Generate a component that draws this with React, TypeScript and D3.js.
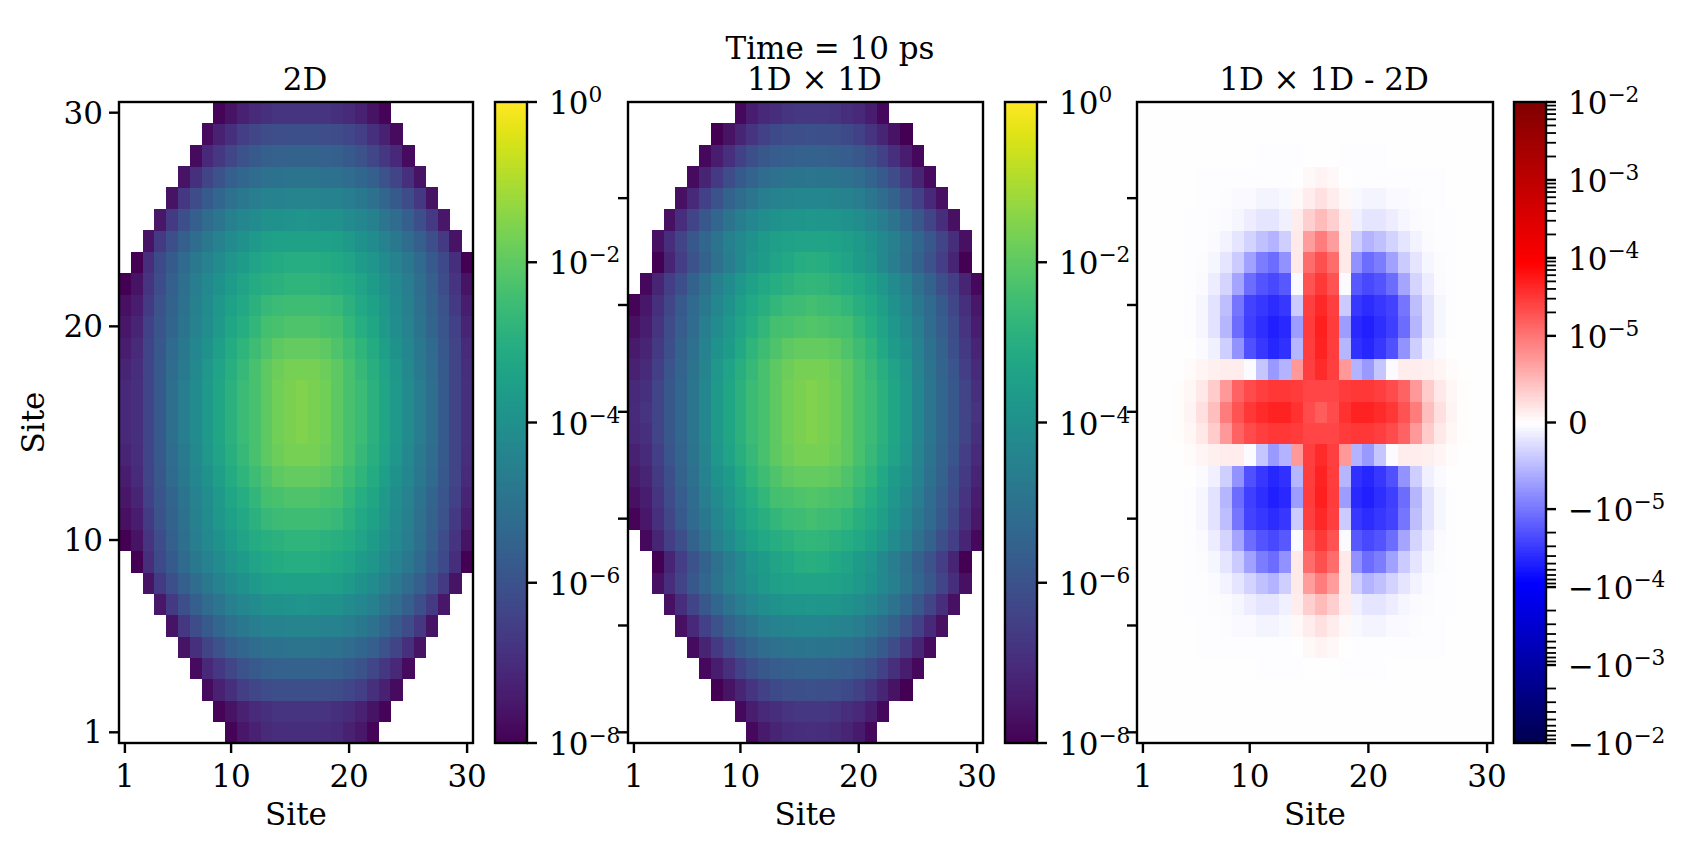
import * as d3 from "d3";

const _ = null;

// log10 of the occupation, read from the colours. Rows are site 1..16, columns site 1..16,
// the picture is mirror symmetric around site 16 in both directions
const occupation2D = [
	[_, _, _, _, _, _, _, _, _, -7.92, -7.52, -7.28, -7.04, -7, -6.96, -6.96],
	[_, _, _, _, _, _, _, _, -7.92, -7.6, -7.28, -7.04, -6.88, -6.8, -6.8, -6.8],
	[_, _, _, _, _, _, _, -7.76, -7.28, -6.88, -6.56, -6.32, -6.16, -6.12, -6.08, -6.08],
	[_, _, _, _, _, _, -7.76, -7.12, -6.72, -6.32, -6, -5.76, -5.6, -5.56, -5.52, -5.52],
	[_, _, _, _, _, -7.6, -6.88, -6.4, -6, -5.6, -5.36, -5.2, -5.04, -5, -4.96, -4.96],
	[_, _, _, _, -7.6, -6.72, -6.16, -5.76, -5.36, -5.04, -4.8, -4.64, -4.48, -4.44, -4.4, -4.4],
	[_, _, _, -7.52, -6.64, -6.08, -5.6, -5.2, -4.88, -4.56, -4.32, -4.16, -4, -3.92, -3.88, -3.84],
	[_, _, -7.6, -6.64, -6.08, -5.6, -5.2, -4.8, -4.48, -4.16, -3.92, -3.68, -3.52, -3.48, -3.44, -3.44],
	[_, -8, -6.96, -6.24, -5.76, -5.28, -4.8, -4.48, -4.16, -3.84, -3.6, -3.36, -3.2, -3.12, -3.04, -3.04],
	[-8, -7.6, -6.8, -6.16, -5.6, -5.12, -4.64, -4.24, -3.92, -3.6, -3.36, -3.12, -2.96, -2.88, -2.8, -2.8],
	[-7.68, -7.36, -6.64, -6, -5.52, -5.04, -4.56, -4.16, -3.76, -3.44, -3.2, -2.88, -2.64, -2.56, -2.48, -2.48],
	[-7.52, -7.2, -6.48, -5.92, -5.44, -4.96, -4.48, -4.08, -3.68, -3.28, -3.04, -2.72, -2.4, -2.32, -2.24, -2.24],
	[-7.36, -7.04, -6.4, -5.84, -5.28, -4.8, -4.32, -3.92, -3.52, -3.12, -2.8, -2.48, -2.24, -2, -1.92, -1.92],
	[-7.2, -6.96, -6.4, -5.76, -5.2, -4.72, -4.24, -3.76, -3.36, -2.96, -2.64, -2.32, -2, -1.8, -1.68, -1.68],
	[-7.12, -6.88, -6.4, -5.76, -5.12, -4.64, -4.16, -3.68, -3.28, -2.88, -2.56, -2.32, -2, -1.72, -1.6, -1.52],
	[-7.12, -6.88, -6.4, -5.76, -5.12, -4.64, -4.16, -3.68, -3.28, -2.88, -2.56, -2.32, -2, -1.72, -1.6, -1.52],
];

const occupation1Dx1D = [
	[_, _, _, _, _, _, _, _, _, _, -7.84, -7.44, -7.2, -7.04, -6.96, -6.92],
	[_, _, _, _, _, _, _, _, _, -7.84, -7.36, -7.12, -6.96, -6.8, -6.72, -6.72],
	[_, _, _, _, _, _, _, -8, -7.6, -7.2, -6.8, -6.48, -6.24, -6.12, -6.08, -6.04],
	[_, _, _, _, _, _, -7.84, -7.36, -6.88, -6.48, -6.08, -5.84, -5.68, -5.6, -5.56, -5.52],
	[_, _, _, _, _, -7.76, -7.2, -6.64, -6.16, -5.76, -5.44, -5.2, -5.04, -4.96, -4.92, -4.88],
	[_, _, _, _, -7.68, -7.12, -6.48, -6, -5.52, -5.2, -4.88, -4.64, -4.48, -4.4, -4.32, -4.32],
	[_, _, _, -7.68, -6.96, -6.4, -5.84, -5.36, -4.96, -4.64, -4.32, -4.08, -3.92, -3.84, -3.8, -3.76],
	[_, _, -7.68, -6.96, -6.4, -5.84, -5.36, -4.96, -4.56, -4.24, -3.92, -3.68, -3.52, -3.4, -3.36, -3.36],
	[_, _, -8, -7.2, -6.56, -6, -5.52, -5.04, -4.64, -4.24, -3.84, -3.6, -3.36, -3.2, -3.04, -2.96],
	[_, -7.84, -7.2, -6.56, -6.08, -5.52, -5.04, -4.56, -4.16, -3.76, -3.44, -3.2, -3.04, -2.88, -2.76, -2.72],
	[-7.92, -7.52, -6.88, -6.32, -5.76, -5.28, -4.8, -4.32, -3.92, -3.52, -3.2, -2.96, -2.72, -2.56, -2.48, -2.4],
	[-7.68, -7.36, -6.8, -6.16, -5.68, -5.2, -4.64, -4.16, -3.76, -3.36, -3.04, -2.72, -2.4, -2.32, -2.24, -2.16],
	[-7.44, -7.2, -6.64, -6.08, -5.52, -5.04, -4.48, -3.92, -3.6, -3.2, -2.8, -2.48, -2.24, -2, -1.92, -1.92],
	[-7.28, -7.04, -6.56, -5.92, -5.44, -4.96, -4.4, -3.76, -3.36, -2.96, -2.64, -2.32, -2, -1.8, -1.68, -1.68],
	[-7.12, -6.88, -6.4, -5.84, -5.36, -4.88, -4.32, -3.68, -3.28, -2.88, -2.56, -2.32, -2, -1.72, -1.6, -1.52],
	[-7.04, -6.8, -6.4, -5.84, -5.36, -4.88, -4.32, -3.68, -3.28, -2.88, -2.56, -2.32, -2, -1.72, -1.6, -1.52],
];

// difference in units of 1e-5, same layout as above
const diffUnit = 1e-5;
const occupationDiff = [
	[-.004, -.004, -.004, -.004, -.004, -.004, -.004, -.004, -.004, -.004, -.004, -.004, -.004, -.004, -.004, -.004],
	[-.005, -.005, -.005, -.005, -.005, -.005, -.005, -.005, -.005, -.005, -.006, -.006, -.006, -.006, -.006, -.006],
	[-.005, -.005, -.005, -.005, -.005, -.005, -.005, -.01, -.01, -.01, -.01, -.01, -.01, -.01, -.01, -.01],
	[-.005, -.005, -.005, -.005, -.005, -.01, -.01, -.01, -.01, -.01, -.012, -.012, -.012, -.012, -.008, -.006],
	[-.005, -.005, -.005, -.005, -.005, -.012, -.012, -.012, -.012, -.015, -.015, -.015, -.015, -.005, .05, .09],
	[-.005, -.005, -.005, -.005, -.01, -.012, -.015, -.02, -.045, -.045, -.08, -.08, -.05, .05, .13, .22],
	[-.005, -.005, -.005, -.008, -.012, -.015, -.02, -.035, -.067, -.127, -.19, -.19, -.11, .14, .35, .5],
	[-.005, -.005, -.008, -.01, -.012, -.015, -.03, -.09, -.19, -.32, -.46, -.55, -.35, .15, .71, .95],
	[-.005, -.005, -.008, -.01, -.012, -.025, -.067, -.19, -.38, -.68, -.95, -1.19, -.8, .16, 1.19, 1.98],
	[-.005, -.005, -.008, -.01, -.012, -.03, -.13, -.31, -.65, -1.19, -1.87, -2.31, -1.73, -.03, 1.87, 3.1],
	[-.005, -.005, -.008, -.01, -.012, -.067, -.2, -.47, -1.01, -2.54, -3.19, -3.9, -3.19, -.38, 2.73, 4.2],
	[-.005, -.005, -.008, -.01, -.012, -.067, -.2, -.53, -1.19, -2.73, -3.78, -4.9, -4.09, -.71, 2.95, 4.94],
	[-.005, -.005, -.008, -.01, -.01, -.03, -.11, -.35, -.78, -1.98, -3.19, -4.31, -3.57, -.53, 2.85, 4.67],
	[-.005, -.005, -.005, .01, .03, .07, .11, .127, .127, -.03, -.41, -.74, -.55, .74, 2.73, 4],
	[-.005, -.005, -.005, .02, .067, .17, .38, .74, 1.43, 2.18, 2.73, 3.19, 3.19, 2.95, 2.45, 2.45],
	[-.005, -.005, -.005, .02, .08, .23, .47, .95, 1.87, 3.19, 4, 4.67, 4.67, 3.57, 2.18, 1.61],
];

const siteTickIndex = [0, 9, 19, 29];
const siteTickLabel = ["1", "10", "20", "30"];
const unlabelledTickIndex = [0, 5, 10, 15, 20, 25];
const logTicks = [0, -2, -4, -6, -8];
const diffExponents = [-2, -3, -4, -5];
const diffMinorFactors = [2, 3, 4, 5, 6, 7, 8, 9];
const seismicStops = ["#00004d", "#0000ff", "#ffffff", "#ff0000", "#800000"];

const nSites = 30;
const font = "'DejaVu Serif'";
const fontSize = 31;
const lineWidth = 2.4;
const tickLength = 10;
const plotTop = 102;
const plotBottom = 743;
const titleShift = 9;

// the stored quarter is unfolded around index 15
function unfold(quarter) {
	const fold = (i) => (i <= 15 ? i : 30 - i);
	return d3.range(nSites).map((i) => d3.range(nSites).map((j) => quarter[fold(i)][fold(j)]));
}

const viridisColor = d3.scaleSequential(d3.interpolateViridis).domain([-8, 0]);
const seismicColor = d3
	.scaleLinear()
	.domain([0, 0.25, 0.5, 0.75, 1])
	.range(seismicStops)
	.interpolate(d3.interpolateRgb);

// SymLogNorm with linthresh 1e-5 and linscale 1
const linearPart = 1 / (1 - 1 / 10);
const symlogRange = linearPart + 3;
function symlogNorm(v) {
	const a = Math.abs(v) / diffUnit;
	const pos = a <= 1 ? linearPart * a : linearPart + Math.log10(a);
	return 0.5 + (0.5 * Math.sign(v) * pos) / symlogRange;
}

const yColorbar = d3.scaleLinear().domain([0, 1]).range([plotBottom, plotTop]);

function Heatmap({ x0, x1, grid, color, title, labelY, showSiteY }) {
	const xCell = d3.scaleLinear().domain([0, nSites]).range([x0, x1]);
	const yCell = d3.scaleLinear().domain([0, nSites]).range([plotBottom, plotTop]);
	const yTicks = showSiteY ? siteTickIndex : unlabelledTickIndex;
	return (
		<g>
			<g shapeRendering="crispEdges">
				{grid.map((row, i) =>
					row.map((v, j) =>
						v === null ? null : (
							<rect
								key={i + "-" + j}
								x={xCell(j)}
								y={yCell(i + 1)}
								width={xCell(j + 1) - xCell(j) + 0.5}
								height={yCell(i) - yCell(i + 1) + 0.5}
								fill={color(v)}
							/>
						),
					),
				)}
			</g>
			<rect x={x0} y={plotTop} width={x1 - x0} height={plotBottom - plotTop} fill="none" stroke="#000" strokeWidth={lineWidth} />
			{siteTickIndex.map((t, k) => (
				<g key={t} transform={`translate(${xCell(t + 0.5)},${plotBottom})`}>
					<line y2={tickLength} stroke="#000" strokeWidth={lineWidth} />
					<text y={44} textAnchor="middle" fontFamily={font} fontSize={fontSize}>
						{siteTickLabel[k]}
					</text>
				</g>
			))}
			{yTicks.map((t, k) => (
				<g key={t} transform={`translate(${x0},${yCell(t + 0.5)})`}>
					<line x2={-tickLength} stroke="#000" strokeWidth={lineWidth} />
					{showSiteY && (
						<text x={-16} y={11} textAnchor="end" fontFamily={font} fontSize={fontSize}>
							{siteTickLabel[k]}
						</text>
					)}
				</g>
			))}
			<text x={(x0 + x1) / 2 + titleShift} y={90} textAnchor="middle" fontFamily={font} fontSize={fontSize}>
				{title}
			</text>
			<text x={(x0 + x1) / 2} y={825} textAnchor="middle" fontFamily={font} fontSize={fontSize}>
				Site
			</text>
			{labelY && (
				<text transform={`translate(44,${(plotTop + plotBottom) / 2}) rotate(-90)`} textAnchor="middle" fontFamily={font} fontSize={fontSize}>
					Site
				</text>
			)}
		</g>
	);
}

function PowerLabel({ x, y, exponent, negative }) {
	return (
		<text x={x} y={y + 12} fontFamily={font} fontSize={fontSize}>
			{negative ? "\u2212" : ""}10
			<tspan dy={-12} fontSize={fontSize * 0.7}>
				{exponent === 0 ? "0" : "\u2212" + Math.abs(exponent)}
			</tspan>
		</text>
	);
}

// gradient strip shared by the three colour bars
function ColorStrip({ x0, x1, color }) {
	const steps = d3.range(256);
	return (
		<g shapeRendering="crispEdges">
			{steps.map((s) => (
				<rect
					key={s}
					x={x0}
					y={yColorbar((s + 1) / 256)}
					width={x1 - x0}
					height={yColorbar(s / 256) - yColorbar((s + 1) / 256) + 0.6}
					fill={color((s + 0.5) / 256)}
				/>
			))}
			<rect x={x0} y={plotTop} width={x1 - x0} height={plotBottom - plotTop} fill="none" stroke="#000" strokeWidth={lineWidth} shapeRendering="auto" />
		</g>
	);
}

function LogColorbar({ x0, x1 }) {
	const pos = d3.scaleLinear().domain([-8, 0]).range([0, 1]);
	return (
		<g>
			<ColorStrip x0={x0} x1={x1} color={(t) => d3.interpolateViridis(t)} />
			{logTicks.map((t) => {
				const y = yColorbar(pos(t));
				return (
					<g key={t}>
						<line x1={x1} x2={x1 + tickLength} y1={y} y2={y} stroke="#000" strokeWidth={lineWidth} />
						<PowerLabel x={x1 + 22} y={y} exponent={t} />
					</g>
				);
			})}
		</g>
	);
}

function SymlogColorbar({ x0, x1 }) {
	const minor = [];
	diffExponents.slice(1).forEach((e) => {
		diffMinorFactors.forEach((f) => {
			const v = f * Math.pow(10, e);
			minor.push(v, -v);
		});
	});
	const yOf = (v) => yColorbar(symlogNorm(v));
	return (
		<g>
			<ColorStrip x0={x0} x1={x1} color={(t) => seismicColor(t)} />
			{minor.map((v) => (
				<line key={v} x1={x1} x2={x1 + tickLength} y1={yOf(v)} y2={yOf(v)} stroke="#000" strokeWidth={1.8} />
			))}
			{diffExponents.map((e) => {
				const v = Math.pow(10, e);
				return (
					<g key={e}>
						<line x1={x1} x2={x1 + tickLength} y1={yOf(v)} y2={yOf(v)} stroke="#000" strokeWidth={lineWidth} />
						<line x1={x1} x2={x1 + tickLength} y1={yOf(-v)} y2={yOf(-v)} stroke="#000" strokeWidth={lineWidth} />
						<PowerLabel x={x1 + 22} y={yOf(v)} exponent={e} />
						<PowerLabel x={x1 + 22} y={yOf(-v)} exponent={e} negative />
					</g>
				);
			})}
			<line x1={x1} x2={x1 + tickLength} y1={yOf(0)} y2={yOf(0)} stroke="#000" strokeWidth={lineWidth} />
			<text x={x1 + 22} y={yOf(0) + 11} fontFamily={font} fontSize={fontSize}>
				0
			</text>
		</g>
	);
}

export default function App() {
	const grid2D = unfold(occupation2D);
	const grid1D = unfold(occupation1Dx1D);
	const gridDiff = unfold(occupationDiff).map((row) => row.map((v) => v * diffUnit));
	const diffColor = (v) => seismicColor(symlogNorm(v));
	return (
		<svg width={1700} height={850} style={{ position: "absolute", left: 0, top: 0, background: "#fff" }}>
			<text x={830} y={59} textAnchor="middle" fontFamily={font} fontSize={fontSize}>
				Time = 10 ps
			</text>
			<Heatmap x0={119} x1={473} grid={grid2D} color={viridisColor} title="2D" labelY showSiteY />
			<LogColorbar x0={495} x1={527} />
			<Heatmap x0={628} x1={983} grid={grid1D} color={viridisColor} title={"1D \u00d7 1D"} />
			<LogColorbar x0={1005} x1={1037} />
			<Heatmap x0={1137} x1={1493} grid={gridDiff} color={diffColor} title={"1D \u00d7 1D - 2D"} />
			<SymlogColorbar x0={1514} x1={1546} />
		</svg>
	);
}
